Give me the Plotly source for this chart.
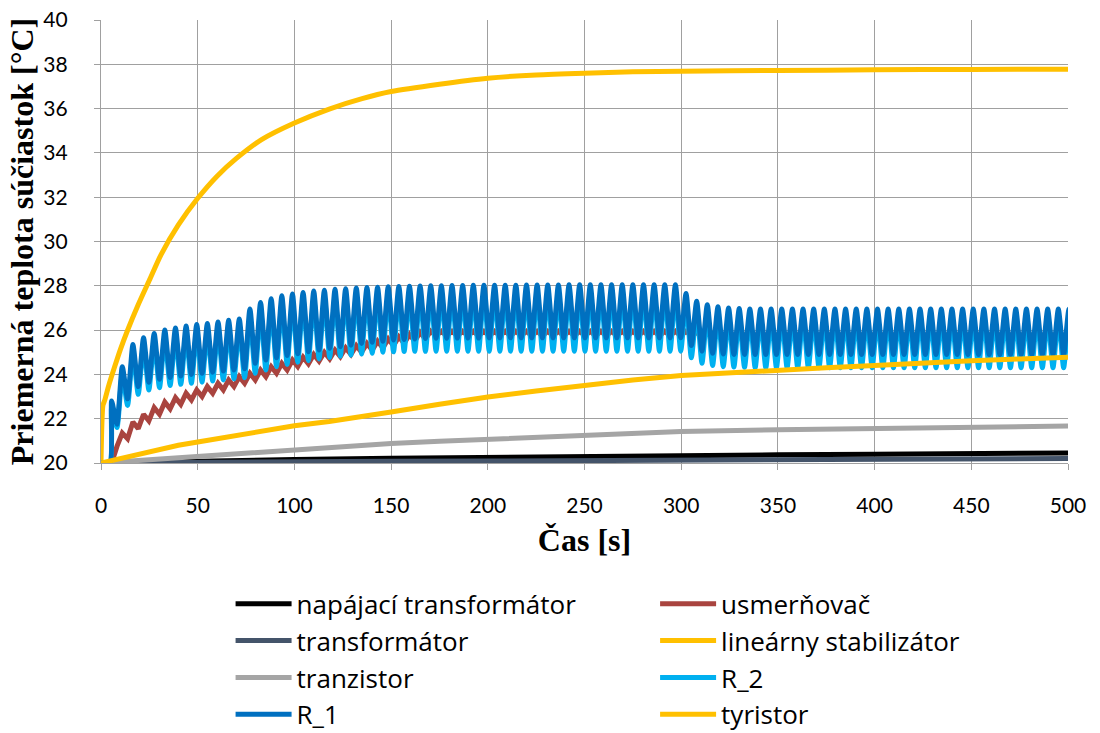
import plotly.graph_objects as go

# ---------------- data ----------------
PERIOD = 5.5  # s, switching period of the oscillating components

# smooth curves: time [s] and temperature [°C]
t_lin = [0, 1, 2, 4, 7, 10, 14, 19, 25, 31, 40, 50, 60, 70, 83, 100, 118, 135,
         150, 175, 200, 225, 250, 275, 300, 350, 400, 450, 500]
lin_stab = [20.0, 22.6, 22.85, 23.5, 24.33, 25.12, 26.05, 27.1, 28.25, 29.4, 30.75,
            31.95, 32.95, 33.75, 34.6, 35.35, 35.98, 36.45, 36.77, 37.1, 37.37,
            37.52, 37.6, 37.66, 37.69, 37.72, 37.75, 37.77, 37.78]

t_tyr = [0, 5, 10, 20, 30, 40, 50, 60, 70, 80, 90, 100, 118, 135, 150, 175, 200,
         225, 250, 275, 300, 325, 350, 375, 400, 425, 450, 475, 500]
tyristor = [20.0, 20.1, 20.25, 20.45, 20.65, 20.8, 20.95, 21.1, 21.25, 21.4, 21.55,
            21.68, 21.87, 22.08, 22.3, 22.65, 22.98, 23.25, 23.52, 23.75, 23.95,
            24.08, 24.18, 24.3, 24.4, 24.52, 24.62, 24.7, 24.77]

t_tranz = [0, 25, 50, 75, 100, 125, 150, 175, 200, 225, 250, 275, 300, 350, 400, 450, 500]
tranzistor = [20.0, 20.15, 20.3, 20.47, 20.62, 20.75, 20.88, 20.98, 21.07, 21.18,
              21.28, 21.35, 21.42, 21.5, 21.56, 21.62, 21.67]

t_trafo = [0, 50, 100, 150, 200, 250, 300, 350, 400, 450, 500]
napajaci = [20.0, 20.1, 20.16, 20.21, 20.26, 20.3, 20.33, 20.37, 20.4, 20.43, 20.45]
transformator = [20.0, 20.04, 20.06, 20.08, 20.09, 20.1, 20.11, 20.13, 20.15, 20.18, 20.2]

# oscillating curves: value at each peak (t = k*PERIOD) and trough (t = k*PERIOD + PERIOD/2)
r1_peaks = [22.8, 24.35, 25.35, 25.65, 25.85, 26.0, 26.1, 26.18, 26.25, 26.3,
            26.37, 26.44, 26.5, 26.95, 27.25, 27.42, 27.55, 27.63, 27.7, 27.76,
            27.8, 27.84, 27.87, 27.9, 27.92, 27.94, 27.96, 27.97, 27.98, 27.99,
            28.0, 28.0, 28.01, 28.01, 28.02, 28.02, 28.03, 28.03, 28.03, 28.04,
            28.04, 28.04, 28.04, 28.05, 28.05, 28.05, 28.05, 28.05, 28.05, 28.05,
            28.05, 28.05, 28.05, 28.05, 27.65, 27.3, 27.15, 27.05, 27.0, 26.97] + [26.95] * 31
r1_troughs = [21.75, 22.9, 23.45, 23.65, 23.78, 23.86, 23.93, 24.0, 24.05, 24.1,
              24.15, 24.2, 24.25, 24.5, 24.65, 24.75, 24.85, 24.93, 25.02, 25.1,
              25.18, 25.25, 25.32, 25.4, 25.45, 25.5, 25.55, 25.58, 25.6, 25.62,
              25.63, 25.63, 25.64, 25.64, 25.64, 25.65, 25.65, 25.65, 25.65, 25.65,
              25.65, 25.65, 25.65, 25.65, 25.65, 25.65, 25.65, 25.65, 25.65, 25.65,
              25.65, 25.65, 25.65, 25.65, 25.3, 25.05, 24.95, 24.92, 24.9, 24.9] + [24.9] * 31

r2_peaks = [22.5, 24.0, 25.0, 25.3, 25.5, 25.65, 25.75, 25.83, 25.9, 25.95,
            26.02, 26.09, 26.15, 26.6, 26.9, 27.07, 27.2, 27.28, 27.35, 27.41,
            27.45, 27.49, 27.52, 27.55, 27.57, 27.59, 27.61, 27.62, 27.63, 27.64,
            27.65, 27.65, 27.66, 27.66, 27.67, 27.67, 27.68, 27.68, 27.68, 27.69,
            27.69, 27.69, 27.69, 27.7, 27.7, 27.7, 27.7, 27.7, 27.7, 27.7,
            27.7, 27.7, 27.7, 27.7, 27.3, 26.95, 26.8, 26.7, 26.65, 26.62] + [26.6] * 31
r2_troughs = [21.6, 22.6, 23.1, 23.3, 23.4, 23.5, 23.55, 23.6, 23.65, 23.7,
              23.75, 23.8, 23.85, 24.05, 24.2, 24.35, 24.45, 24.55, 24.62, 24.7,
              24.76, 24.82, 24.87, 24.92, 24.96, 25.0, 25.02, 25.03, 25.04, 25.04,
              25.05, 25.05, 25.05, 25.05, 25.05, 25.05, 25.05, 25.05, 25.05, 25.05,
              25.05, 25.05, 25.05, 25.05, 25.05, 25.05, 25.05, 25.05, 25.05, 25.05,
              25.05, 25.05, 25.05, 25.05, 24.75, 24.5, 24.4, 24.35, 24.33, 24.32] + [24.3] * 31

usm_peaks = [20.0, 21.35, 21.85, 22.2, 22.5, 22.75, 22.95, 23.15, 23.3, 23.45,
             23.6, 23.75, 23.9, 24.05, 24.2, 24.35, 24.5, 24.65, 24.78, 24.9,
             25.0, 25.1, 25.2, 25.3, 25.4, 25.5, 25.6, 25.7, 25.8, 25.9,
             25.95, 25.95, 25.95, 25.95, 25.95, 25.95, 25.95, 25.95, 25.95, 25.95,
             25.95, 25.95, 25.95, 25.95, 25.95, 25.95, 25.95, 25.95, 25.95, 25.95,
             25.95, 25.95, 25.95, 25.95, 25.95, 25.9, 25.9, 25.9, 25.9, 25.9] + [25.9] * 31
usm_troughs = [20.75, 21.1, 21.55, 21.9, 22.2, 22.45, 22.65, 22.85, 23.0, 23.15,
               23.3, 23.45, 23.6, 23.75, 23.9, 24.05, 24.2, 24.35, 24.48, 24.6,
               24.7, 24.8, 24.9, 25.0, 25.1, 25.2, 25.3, 25.4, 25.5, 25.6,
               25.75, 25.75, 25.75, 25.75, 25.75, 25.75, 25.75, 25.75, 25.75, 25.75,
               25.75, 25.75, 25.75, 25.75, 25.75, 25.75, 25.75, 25.75, 25.75, 25.75,
               25.75, 25.75, 25.75, 25.75, 25.75, 25.75, 25.75, 25.75, 25.75, 25.75] + [25.75] * 31


def zigzag(peaks, troughs, t_on):
    xs, ys = [0, t_on], [20.0, 20.0]
    for k, (p, q) in enumerate(zip(peaks, troughs), start=1):
        xs += [k * PERIOD, k * PERIOD + PERIOD / 2]
        ys += [p, q]
    return xs, ys


x_r1, y_r1 = zigzag(r1_peaks, r1_troughs, 4.6)
x_r2, y_r2 = zigzag(r2_peaks, r2_troughs, 4.6)
x_us, y_us = zigzag(usm_peaks, usm_troughs, 5.5)

# ---------------- figure ----------------
LW = 5
C_BLACK = '#000000'
C_RED = '#A9443F'
C_SLATE = '#44546A'
C_GOLD = '#FFC000'
C_GRAY = '#A5A5A5'
C_LBLUE = '#00B0F0'
C_BLUE = '#0070C0'

fig = go.Figure()
traces = [
    ('napájací transformátor', t_trafo, napajaci, C_BLACK, 'legend', 'linear'),
    ('usmerňovač', x_us, y_us, C_RED, 'legend2', 'linear'),
    ('transformátor', t_trafo, transformator, C_SLATE, 'legend', 'linear'),
    ('lineárny stabilizátor', t_lin, lin_stab, C_GOLD, 'legend2', 'spline'),
    ('tranzistor', t_tranz, tranzistor, C_GRAY, 'legend', 'linear'),
    ('R_2', x_r2, y_r2, C_LBLUE, 'legend2', 'spline'),
    ('R_1', x_r1, y_r1, C_BLUE, 'legend', 'spline'),
    ('tyristor', t_tyr, tyristor, C_GOLD, 'legend2', 'linear'),
]
for name, xs, ys, col, leg, shape in traces:
    fig.add_trace(go.Scatter(x=xs, y=ys, name=name, mode='lines',
                             line=dict(color=col, width=LW, shape=shape,
                                       smoothing=0.6 if shape == 'spline' else None),
                             legend=leg))

GRID = '#A0A0A0'
tick_font = dict(family='Lato', size=21, color='black')
title_font = dict(family='Liberation Serif', size=32, color='black', weight='bold')
leg_font = dict(family='Open Sans', size=26, color='black')

fig.update_xaxes(range=[0, 500], dtick=50, tick0=0, showgrid=True, gridcolor=GRID,
                 gridwidth=1.3, showline=True, linecolor=GRID, linewidth=1.3,
                 ticks='outside', ticklen=6, tickcolor=GRID, tickfont=tick_font,
                 zeroline=False, ticklabelstandoff=18,
                 title=dict(text='Čas [s]', font=title_font, standoff=12))
fig.update_yaxes(range=[20, 40], dtick=2, tick0=20, showgrid=True, gridcolor=GRID,
                 gridwidth=1.3, showline=True, linecolor=GRID, linewidth=1.3,
                 ticks='outside', ticklen=6, tickcolor=GRID, tickfont=tick_font,
                 zeroline=False, ticklabelstandoff=22,
                 title=dict(text='Priemerná teplota súčiastok [°C]', font=title_font, standoff=0))

fig.update_layout(
    width=1100, height=733,
    margin=dict(l=101, r=32, t=20, b=270, autoexpand=False),
    plot_bgcolor='white', paper_bgcolor='white',
    showlegend=True,
    legend=dict(x=0.134, y=-0.265, xanchor='left', yanchor='top', font=leg_font,
                tracegroupgap=0, itemwidth=56, bgcolor='rgba(0,0,0,0)'),
    legend2=dict(x=0.573, y=-0.265, xanchor='left', yanchor='top', font=leg_font,
                 tracegroupgap=0, itemwidth=56, bgcolor='rgba(0,0,0,0)'),
)

fig.write_html('out.html', config={'displayModeBar': False},
               post_script="document.body.style.margin='0px';")
